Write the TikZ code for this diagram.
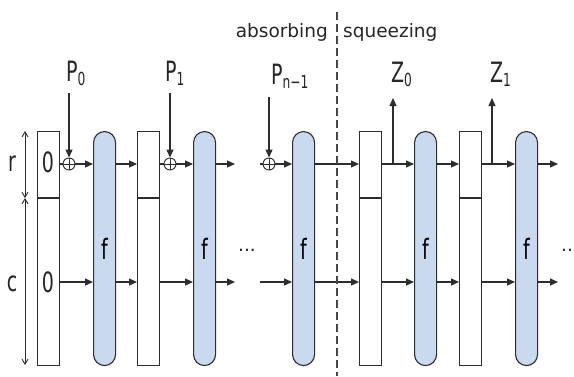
\documentclass[tikz,border=0pt]{standalone}
\usepackage{fontspec}
\setmainfont{DejaVu Sans}
\newfontfamily\labfont[FakeStretch=0.68]{DejaVu Sans}
\usetikzlibrary{arrows.meta,calc}
\definecolor{linec}{RGB}{45,45,45}
\definecolor{fblue}{RGB}{200,217,240}
\definecolor{dashc}{RGB}{70,70,70}
\newcommand{\lbl}[2]{#1\raisebox{-4pt}{\fontsize{18}{18}\selectfont #2}}
\begin{document}
\begin{tikzpicture}[x=1pt,y=-1pt,
  line/.style={draw=linec, line width=1.2pt},
  arr/.style={line, -{Triangle[length=8pt,width=7pt]}},
  dim/.style={draw=linec, line width=0.9pt, {Straight Barb[length=5pt,width=6pt]}-{Straight Barb[length=5pt,width=6pt]}},
  statebox/.style={draw=linec, line width=1.1pt, fill=white, minimum width=22pt, minimum height=234pt, inner sep=0pt, anchor=north west},
  fbox/.style={draw=linec, line width=1.1pt, fill=fblue, minimum width=22pt, minimum height=234pt, rounded corners=11pt, inner sep=0pt, anchor=north west, font=\labfont\fontsize{28}{30}\selectfont},
  xor/.style={circle, draw=linec, line width=0.9pt, fill=white, minimum size=12pt, inner sep=0pt,
    path picture={\draw[linec, line width=0.8pt] (path picture bounding box.north) -- (path picture bounding box.south) (path picture bounding box.west) -- (path picture bounding box.east);}},
  lab/.style={inner sep=0pt, font=\labfont\fontsize{28}{30}\selectfont, text=black!85},
  txt/.style={inner sep=0pt, font=\fontsize{18.5}{20}\selectfont, text=black!85}
]
\clip (0,0) rectangle (574,376);
\fill[white] (0,0) rectangle (574,376);

% rows
\coordinate (rr) at (0,164);
\coordinate (rc) at (0,282);
\coordinate (div) at (0,198);

% state boxes
\node[statebox] (b1) at (37,131) {};
\node[statebox] (b2) at (137,131) {};
\node[statebox] (b3) at (359,131) {};
\node[statebox] (b4) at (459,131) {};
\foreach \b in {b1,b2,b3,b4}{
  \draw[linec, line width=1.1pt] (\b.west |- div) -- (\b.east |- div);
}

% f blocks
\node[fbox] (f1) at (93,131) {f};
\node[fbox] (f2) at (193,131) {f};
\node[fbox] (f3) at (292,131) {f};
\node[fbox] (f4) at (414,131) {f};
\node[fbox] (f5) at (515,131) {f};

% zeros in initial state
\node[lab] (z0r) at (48,162) {0};
\node[lab] (z0c) at (48,282) {0};

% xor nodes
\node[xor] (x1) at (69,164) {};
\node[xor] (x2) at (170,164) {};
\node[xor] (x3) at (269,164) {};

% side dimension
\coordinate (dt) at (25,131);
\coordinate (dm) at (25,198);
\coordinate (db) at (25,365);
\draw[dim] (dt) -- (dm);
\draw[dim] (dm) -- (db);
\node[lab] (lr) at (12,164) {r};
\node[lab] (lc) at (12,284) {c};

% r row
\draw[line] (b1.east |- rr) -- (x1);
\draw[arr] (x1) -- (f1.west |- rr);
\draw[arr] (f1.east |- rr) -- (b2.west |- rr);
\draw[line] (b2.east |- rr) -- (x2);
\draw[arr] (x2) -- (f2.west |- rr);
\coordinate (e1r) at (235,164);
\coordinate (s1r) at (260,164);
\draw[arr] (f2.east |- rr) -- (e1r);
\draw[line] (s1r) -- (x3);
\draw[arr] (x3) -- (f3.west |- rr);
\draw[arr] (f3.east |- rr) -- (b3.west |- rr);
\draw[arr] (b3.east |- rr) -- (f4.west |- rr);
\draw[arr] (f4.east |- rr) -- (b4.west |- rr);
\draw[arr] (b4.east |- rr) -- (f5.west |- rr);
\coordinate (e2r) at (558,164);
\draw[arr] (f5.east |- rr) -- (e2r);

% c row
\draw[arr] (b1.east |- rc) -- (f1.west |- rc);
\draw[arr] (f1.east |- rc) -- (b2.west |- rc);
\draw[arr] (b2.east |- rc) -- (f2.west |- rc);
\coordinate (e1c) at (235,282);
\coordinate (s1c) at (260,282);
\draw[arr] (f2.east |- rc) -- (e1c);
\draw[arr] (s1c) -- (f3.west |- rc);
\draw[arr] (f3.east |- rc) -- (b3.west |- rc);
\draw[arr] (b3.east |- rc) -- (f4.west |- rc);
\draw[arr] (f4.east |- rc) -- (b4.west |- rc);
\draw[arr] (b4.east |- rc) -- (f5.west |- rc);
\coordinate (e2c) at (558,282);
\draw[arr] (f5.east |- rc) -- (e2c);

% inputs
\coordinate (p0) at (69,93);
\coordinate (p1) at (170,93);
\coordinate (p2) at (269,97);
\draw[arr] (p0) -- (x1);
\draw[arr] (p1) -- (x2);
\draw[arr] (p2) -- (x3);
\node[lab, anchor=base west] (lp0) at (66,81) {\lbl{P}{0}};
\node[lab, anchor=base west] (lp1) at (165,81) {\lbl{P}{1}};
\node[lab, anchor=base west] (lp2) at (271,84) {\lbl{P}{n−1}};

% outputs
\coordinate (zb0) at (393,164);
\coordinate (zt0) at (393,98);
\coordinate (zb1) at (492,164);
\coordinate (zt1) at (492,98);
\draw[arr] (zb0) -- (zt0);
\draw[arr] (zb1) -- (zt1);
\node[lab, anchor=base west] (lz0) at (391,82) {\lbl{Z}{0}};
\node[lab, anchor=base west] (lz1) at (490,82) {\lbl{Z}{1}};

% dots
\node[txt] (d1) at (247,250) {...};
\node[txt, anchor=west] (d2) at (561,250) {..};

% phase separator
\coordinate (dtop) at (337,12);
\coordinate (dbot) at (337,376);
\draw[draw=dashc, line width=1.2pt, dash pattern=on 8pt off 4pt] (dtop) -- (dbot);
\node[txt, anchor=base east] (ab) at (328,37) {absorbing};
\node[txt, anchor=base west] (sq) at (343,37) {squeezing};
\end{tikzpicture}
\end{document}
